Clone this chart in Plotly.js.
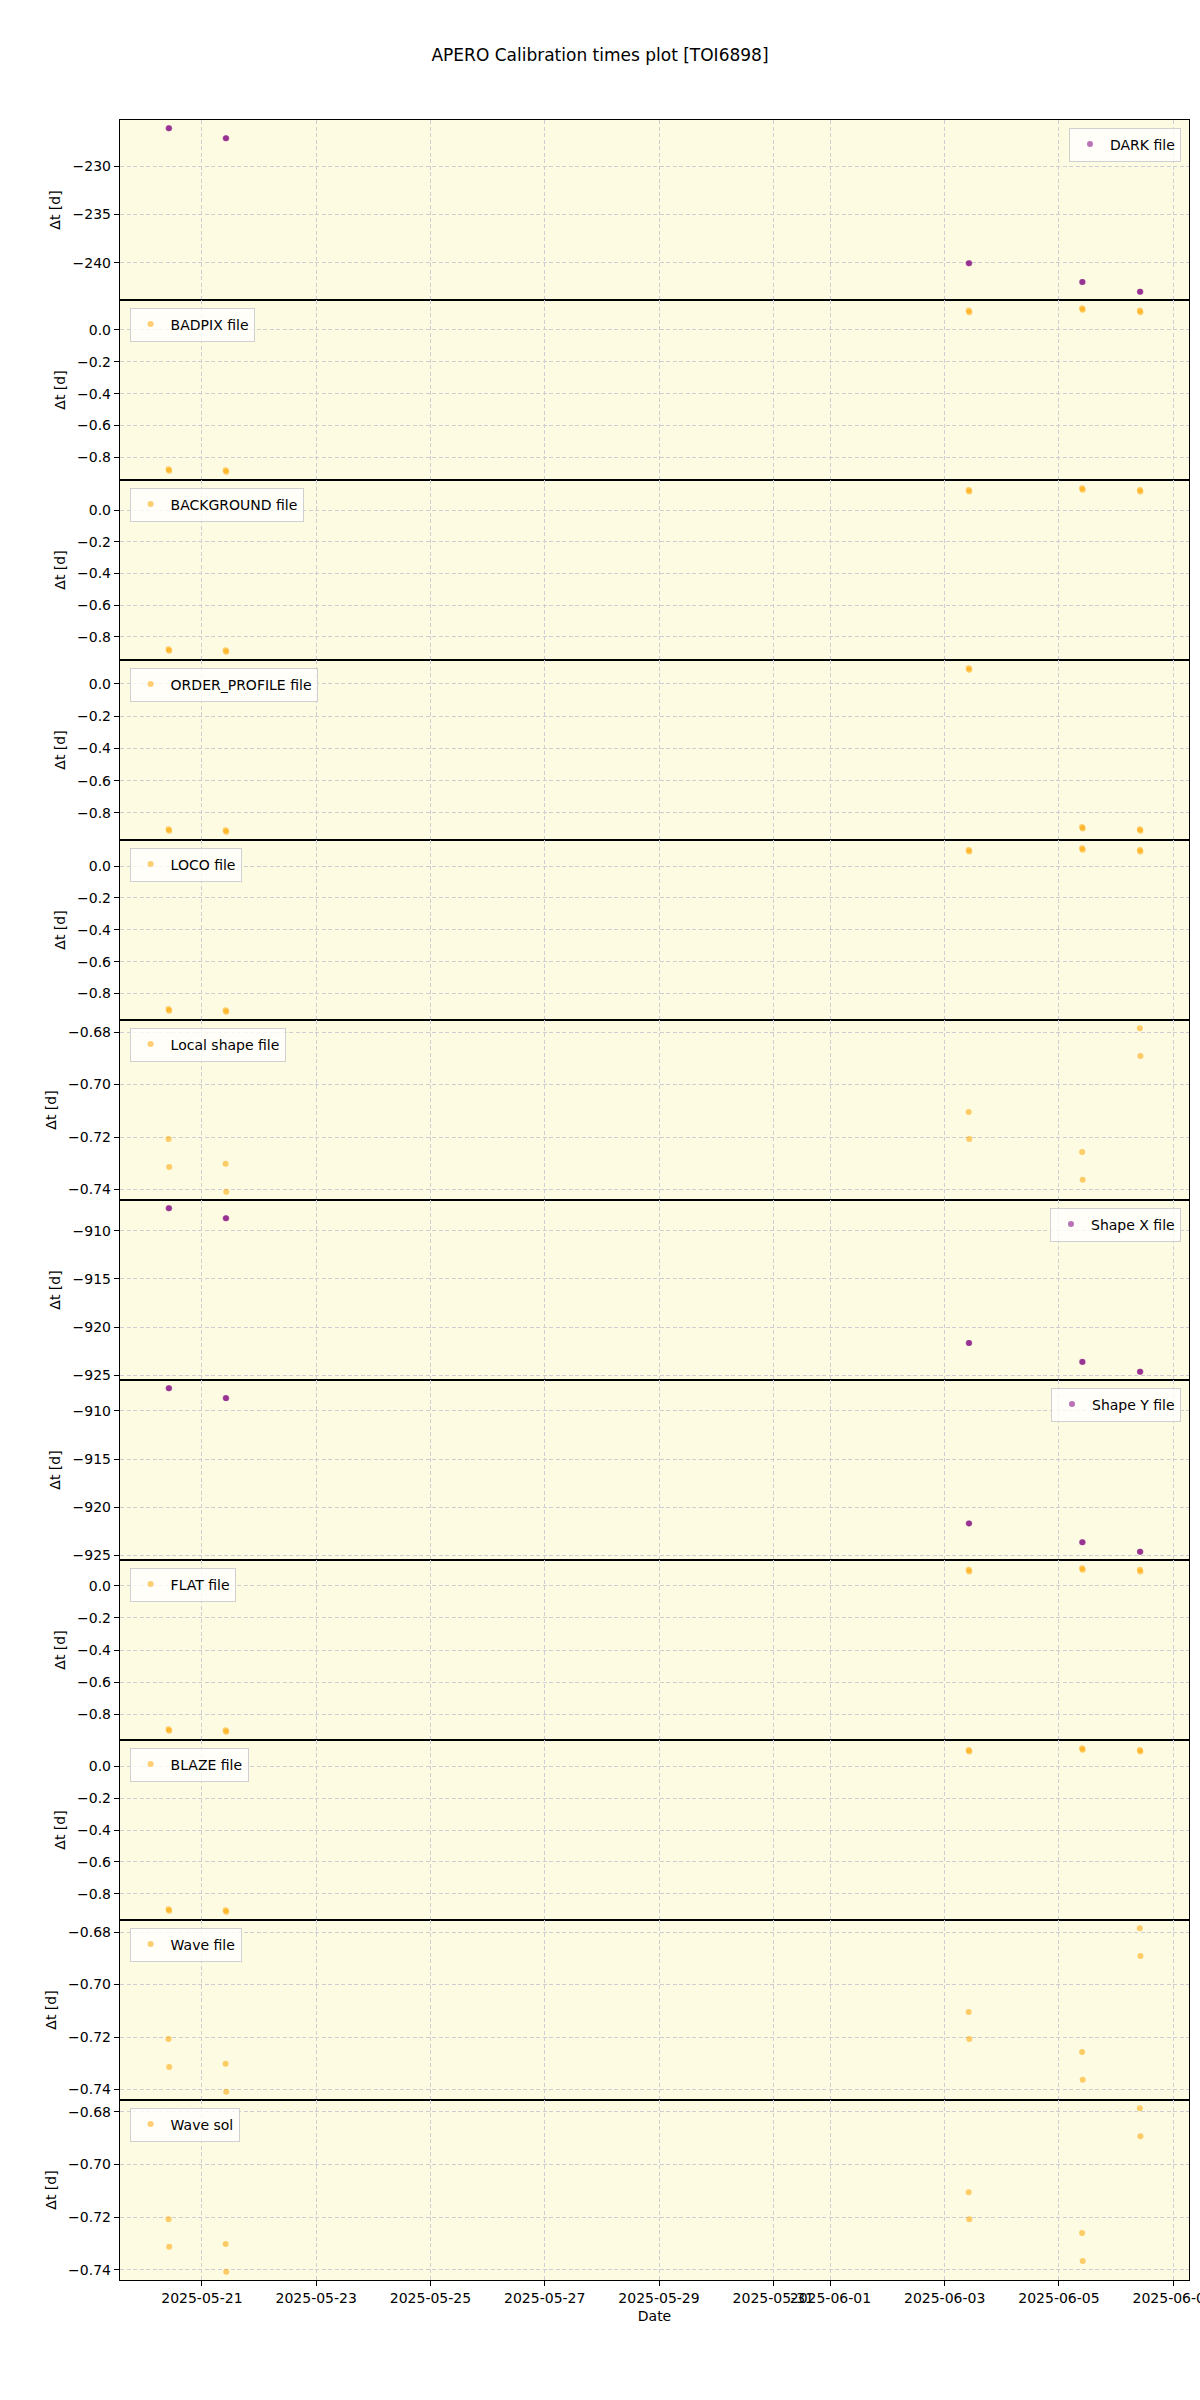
<!DOCTYPE html>
<html>
<head>
<meta charset="utf-8">
<script src="https://cdn.plot.ly/plotly-3.0.1.min.js"></script>
<style>html,body{margin:0;padding:0;background:#fff;}#chart{width:1200px;height:2400px;}</style>
</head>
<body>
<div id="chart"></div>
<script>
// ---------------- DATA ----------------
const obsTimes = [
  "2025-05-20 10:00", "2025-05-20 10:15",
  "2025-05-21 09:58", "2025-05-21 10:13",
  "2025-06-03 10:05", "2025-06-03 10:20",
  "2025-06-05 09:43", "2025-06-05 09:58",
  "2025-06-06 09:58", "2025-06-06 10:13"
];

const seriesNames = [
  "DARK file", "BADPIX file", "BACKGROUND file", "ORDER_PROFILE file",
  "LOCO file", "Local shape file", "Shape X file", "Shape Y file",
  "FLAT file", "BLAZE file", "Wave file", "Wave sol"
];

const darkDt         = [-226.05, -226.06, -227.09, -227.10, -240.05, -240.06, -241.99, -242.00, -243.00, -243.01];
const badpixDt       = [-0.875, -0.885, -0.881, -0.891, 0.122, 0.112, 0.137, 0.127, 0.122, 0.112];
const backgroundDt   = [-0.879, -0.889, -0.885, -0.895, 0.127, 0.117, 0.138, 0.128, 0.127, 0.117];
const orderProfileDt = [-0.902, -0.912, -0.908, -0.918, 0.098, 0.088, -0.888, -0.898, -0.902, -0.912];
const locoDt         = [-0.898, -0.908, -0.905, -0.915, 0.101, 0.091, 0.112, 0.102, 0.101, 0.091];
const localShapeDt   = [-0.7208, -0.7314, -0.7302, -0.7409, -0.7105, -0.7208, -0.7257, -0.7363, -0.6785, -0.6891];
const shapeXDt       = [-907.64, -907.65, -908.68, -908.69, -921.65, -921.66, -923.62, -923.63, -924.65, -924.66];
const shapeYDt       = [-907.63, -907.64, -908.66, -908.67, -921.70, -921.71, -923.66, -923.67, -924.65, -924.66];
const flatDt         = [-0.894, -0.904, -0.900, -0.910, 0.100, 0.090, 0.110, 0.100, 0.100, 0.090];
const blazeDt        = [-0.896, -0.906, -0.902, -0.912, 0.101, 0.091, 0.112, 0.102, 0.101, 0.091];
const waveFileDt     = [-0.7208, -0.7314, -0.7302, -0.7409, -0.7105, -0.7208, -0.7257, -0.7363, -0.6785, -0.6891];
const waveSolDt      = [-0.7208, -0.7313, -0.7302, -0.7408, -0.7106, -0.7208, -0.7260, -0.7367, -0.6786, -0.6893];

const xTickLabels = [
  "2025-05-21", "2025-05-23", "2025-05-25", "2025-05-27", "2025-05-29",
  "2025-05-31", "2025-06-01", "2025-06-03", "2025-06-05", "2025-06-07"
];

const chartTitle = "APERO Calibration times plot [TOI6898]";
const yLabel = "\u0394t [d]";
const xLabel = "Date";

// ---------------- STYLE / LAYOUT ----------------
const seriesValues = [darkDt, badpixDt, backgroundDt, orderProfileDt, locoDt, localShapeDt,
                      shapeXDt, shapeYDt, flatDt, blazeDt, waveFileDt, waveSolDt];
const purpleSet = new Set(["DARK file", "Shape X file", "Shape Y file"]);
const rightLegendSet = new Set(["DARK file", "Shape X file", "Shape Y file"]);

const W = 1200, H = 2400;
const mL = 120, mR = 11, mT = 120, mB = 120;
const plotH = H - mT - mB;
const nP = seriesValues.length;
const panelH = plotH / nP;

function toMs(s) { return Date.parse(s.replace(" ", "T") + ":00Z"); }
const xMs = obsTimes.map(toMs);
const xMin = Math.min(...xMs), xMax = Math.max(...xMs);
const xPad = (xMax - xMin) * 0.05;
function msToStr(ms) { return new Date(ms).toISOString().replace("T", " ").replace("Z", ""); }
const xRange = [msToStr(xMin - xPad), msToStr(xMax + xPad)];

const bg = "#fdfbe2";
const gridColor = "#cdcdd2";
const fontFam = "DejaVu Sans, sans-serif";

const data = [];
const layout = {
  width: W, height: H,
  margin: {l: mL, r: mR, t: mT, b: mB},
  paper_bgcolor: "#ffffff",
  plot_bgcolor: bg,
  font: {family: fontFam, size: 14, color: "#000"},
  title: {text: chartTitle, x: 0.5, xref: "container", xanchor: "center",
          y: 1 - 55 / H, yref: "container", yanchor: "middle",
          font: {family: fontFam, size: 17, color: "#000"}},
  showlegend: true
};

seriesValues.forEach((vals, i) => {
  const n = i + 1;
  const name = seriesNames[i];
  const xa = "xaxis" + (n === 1 ? "" : n);
  const ya = "yaxis" + (n === 1 ? "" : n);
  const legKey = "legend" + (n === 1 ? "" : n);
  const isPurple = purpleSet.has(name);
  data.push({
    type: "scatter", mode: "markers",
    x: obsTimes, y: vals, name: name,
    xaxis: "x" + (n === 1 ? "" : n), yaxis: "y" + (n === 1 ? "" : n),
    legend: legKey,
    marker: {color: isPurple ? "purple" : "orange", size: 6, opacity: 0.55, line: {width: 0}},
    hoverinfo: "x+y"
  });

  const d1 = 1 - i / nP, d0 = 1 - (i + 1) / nP;
  const isBottom = (i === nP - 1);
  layout[xa] = {
    type: "date", range: xRange, domain: [0, 1],
    anchor: "y" + (n === 1 ? "" : n),
    tickmode: "array", tickvals: xTickLabels, ticktext: xTickLabels,
    tickangle: 0, ticklabeloverflow: "allow",
    showticklabels: isBottom, ticks: isBottom ? "outside" : "",
    ticklen: 5, tickcolor: "#000", tickwidth: 1,
    showgrid: true, gridcolor: gridColor, gridwidth: 1, griddash: "4px,2.5px",
    zeroline: false,
    showline: true, mirror: true, linecolor: "#000", linewidth: 1.2,
    tickfont: {family: fontFam, size: 14, color: "#000"}
  };
  if (isBottom) {
    layout[xa].title = {text: xLabel, font: {family: fontFam, size: 14, color: "#000"}, standoff: 6};
  }

  const vmin = Math.min(...vals), vmax = Math.max(...vals);
  const pad = (vmax - vmin) * 0.05;
  const span = vmax - vmin;
  let dtick, fmt;
  if (span > 5) { dtick = 5; fmt = "d"; }
  else if (span > 0.3) { dtick = 0.2; fmt = ".1f"; }
  else { dtick = 0.02; fmt = ".2f"; }
  layout[ya] = {
    domain: [d0, d1], anchor: "x" + (n === 1 ? "" : n),
    range: [vmin - pad, vmax + pad],
    tick0: 0, dtick: dtick, tickformat: fmt,
    ticks: "outside", ticklen: 5, tickcolor: "#000", tickwidth: 1,
    showgrid: true, gridcolor: gridColor, gridwidth: 1, griddash: "4px,2.5px",
    zeroline: false,
    showline: true, mirror: true, linecolor: "#000", linewidth: 1.2,
    tickfont: {family: fontFam, size: 14, color: "#000"},
    title: {text: yLabel, font: {family: fontFam, size: 14, color: "#000"}, standoff: 8}
  };

  const panelTopPx = mT + panelH * i + 7.5;
  const yPaper = (H - mB - panelTopPx) / plotH;
  const right = rightLegendSet.has(name);
  layout[legKey] = {
    x: right ? (1181 - mL) / (W - mL - mR) : (129.6 - mL) / (W - mL - mR),
    xanchor: right ? "right" : "left",
    y: yPaper, yanchor: "top",
    bgcolor: "rgba(255,255,255,0.8)",
    bordercolor: "#d0d0d0", borderwidth: 1,
    font: {family: fontFam, size: 14, color: "#000"},
    itemwidth: 30
  };
});

Plotly.newPlot("chart", data, layout, {displayModeBar: false, staticPlot: true});
</script>
</body>
</html>
